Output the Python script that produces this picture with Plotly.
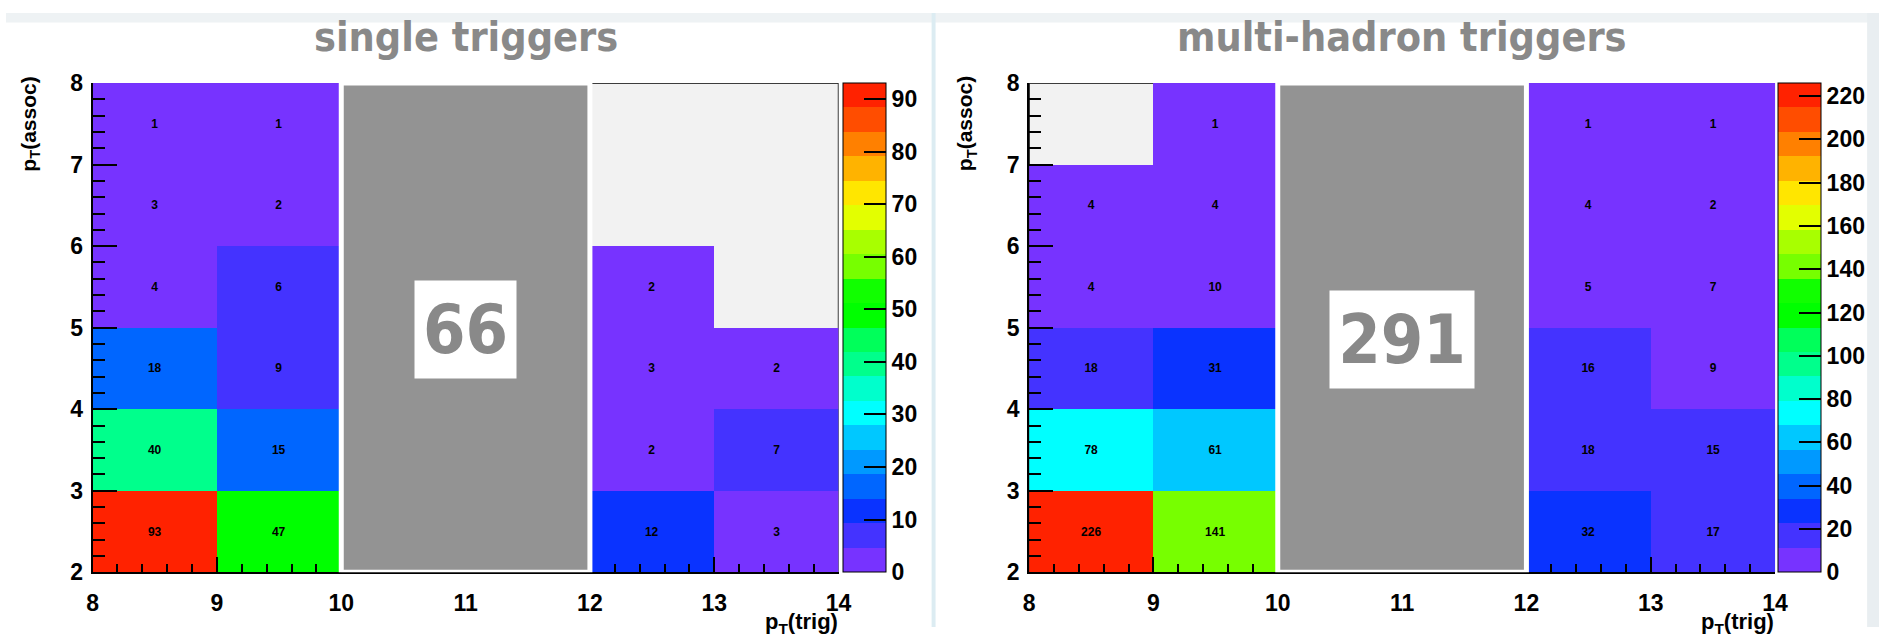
import plotly.graph_objects as go

# ---- data -----------------------------------------------------------------
# bin centres: pT(trig) and pT(assoc)
pt_trig = [8.5, 9.5, 10.5, 11.5, 12.5, 13.5]
pt_assoc = [2.5, 3.5, 4.5, 5.5, 6.5, 7.5]

# counts per bin, one row per pT(assoc) bin (bottom to top); None = empty bin
single_counts = [
    [93, 47, None, None, 12, 3],
    [40, 15, None, None, 2, 7],
    [18, 9, None, None, 3, 2],
    [4, 6, None, None, 2, None],
    [3, 2, None, None, None, None],
    [1, 1, None, None, None, None],
]
multi_counts = [
    [226, 141, None, None, 32, 17],
    [78, 61, None, None, 18, 15],
    [18, 31, None, None, 16, 9],
    [4, 10, None, None, 5, 7],
    [4, 4, None, None, 4, 2],
    [None, 1, None, None, 1, 1],
]
single_zmax = 93
multi_zmax = 226
single_total = "66"
multi_total = "291"
single_title = "single triggers"
multi_title = "multi-hadron triggers"
x_ticks = [8, 9, 10, 11, 12, 13, 14]
y_ticks = [2, 3, 4, 5, 6, 7, 8]
single_cbar_ticks = list(range(0, 100, 10))
multi_cbar_ticks = list(range(0, 240, 20))

# 20-level palette, low to high
palette = [
    "#7733ff", "#4433ff", "#0a33ff", "#0066ff", "#0099ff",
    "#00c8ff", "#00ffff", "#00ffcc", "#00ff8c", "#00ff5a",
    "#00ff00", "#11ff00", "#77ff00", "#a8ff00", "#e3ff00",
    "#ffe600", "#ffb300", "#ff8000", "#ff4d00", "#ff2200",
]


def stepped_scale(colors):
    n = len(colors)
    scale = []
    for i, c in enumerate(colors):
        scale.append([i / n, c])
        scale.append([(i + 1) / n, c])
    return scale


colorscale = stepped_scale(palette)

W, H = 1892, 640
PLOT_TOP, PLOT_BOT = 73, 583
panels = [
    dict(left=87.5, right=841, cbar=845, counts=single_counts, zmax=single_zmax,
         cticks=single_cbar_ticks, title=single_title, total=single_total,
         box_w=101, box_y=4.98, offset=0),
    dict(left=1033.5, right=1787, cbar=1790, counts=multi_counts, zmax=multi_zmax,
         cticks=multi_cbar_ticks, title=multi_title, total=multi_total,
         box_w=144, box_y=4.85, offset=946),
]

label_font = dict(family="Liberation Sans", size=23, color="black", weight="bold")
hand_font = "DejaVu Sans Condensed, Liberation Sans Narrow, Roboto, sans-serif"
grey_text = "#898989"

fig = go.Figure()
shapes = []
annotations = []

# page decoration: top strip, centre divider, right edge strip
shapes += [
    dict(type="rect", xref="paper", yref="paper", x0=0, x1=1, y0=1 - 10 / H, y1=1,
         fillcolor="#eef2f4", line=dict(width=0), layer="below"),
    dict(type="rect", xref="paper", yref="paper", x0=935 / W, x1=939 / W, y0=0, y1=1,
         fillcolor="#dcecf2", line=dict(width=0), layer="below"),
    dict(type="rect", xref="paper", yref="paper", x0=1880 / W, x1=1, y0=0, y1=1,
         fillcolor="#e9eef1", line=dict(width=0), layer="below"),
]

for i, p in enumerate(panels):
    sfx = "" if i == 0 else str(i + 1)
    xa, ya = "x" + sfx, "y" + sfx
    fig.add_trace(go.Heatmap(
        x=pt_trig, y=pt_assoc, z=p["counts"],
        xaxis=xa, yaxis=ya,
        zmin=0, zmax=p["zmax"], colorscale=colorscale,
        texttemplate="%{z}",
        textfont=dict(family="Liberation Sans", size=12, color="black", weight="bold"),
        hoverinfo="skip",
        colorbar=dict(
            x=p["cbar"] / W, xanchor="left", xpad=0, ypad=0,
            y=1 - (PLOT_TOP + PLOT_BOT) / 2 / H, yanchor="middle",
            len=(PLOT_BOT - PLOT_TOP) / H, lenmode="fraction",
            thickness=43, thicknessmode="pixels",
            tickvals=p["cticks"], ticks="inside", ticklen=22,
            tickcolor="black", tickwidth=2,
            outlinewidth=1, outlinecolor="black",
            tickfont=label_font,
        ),
    ))

    axis_common = dict(showgrid=False, zeroline=False, showline=True,
                       linecolor="black", linewidth=2, ticks="inside",
                       tickcolor="black", tickwidth=2, tickfont=label_font,
                       layer="above traces")
    fig.layout["xaxis" + sfx] = dict(
        axis_common, domain=[p["left"] / W, p["right"] / W], anchor=ya,
        range=[8, 14], tickvals=x_ticks, ticklen=15, ticklabelstandoff=9,
        minor=dict(ticks="inside", ticklen=8, dtick=0.2, tickcolor="black", tickwidth=2),
    )
    fig.layout["yaxis" + sfx] = dict(
        axis_common, domain=[1 - PLOT_BOT / H, 1 - PLOT_TOP / H], anchor=xa,
        range=[2, 8], tickvals=y_ticks, ticklen=24, ticklabelstandoff=3,
        minor=dict(ticks="inside", ticklen=12, dtick=0.2, tickcolor="black", tickwidth=2),
    )

    # frame (drawn beneath the bins)
    shapes.append(dict(type="rect", xref=xa, yref=ya, x0=8, x1=14, y0=2, y1=8,
                       line=dict(color="black", width=1.5), layer="below"))
    # grey cover over the 10-12 GeV columns
    shapes.append(dict(type="rect", xref=xa, yref=ya, x0=10, x1=12, y0=2, y1=8,
                       fillcolor="#939393", line=dict(color="white", width=5),
                       layer="above"))

    off = p["offset"]
    # panel title
    annotations.append(dict(
        text=p["title"], xref="paper", yref="paper",
        x=((p["left"] + p["right"]) / 2) / W, y=1 - 25 / H,
        xanchor="center", yanchor="middle", showarrow=False,
        font=dict(family=hand_font, size=41, color=grey_text, weight="bold"),
    ))
    # total count in a white box
    annotations.append(dict(
        text=p["total"], xref=xa, yref=ya, x=11, y=p["box_y"],
        xanchor="center", yanchor="middle", showarrow=False,
        width=p["box_w"], height=97, bgcolor="white", borderpad=0,
        font=dict(family=hand_font, size=68, color=grey_text, weight="bold"),
    ))
    # axis titles
    annotations.append(dict(
        text="p<sub>T</sub>(assoc)", xref="paper", yref="paper",
        x=(off + 24) / W, y=1 - 64 / H, xanchor="center", yanchor="top",
        textangle=-90, showarrow=False,
        font=dict(family="Liberation Sans", size=21, color="black", weight="bold"),
    ))
    annotations.append(dict(
        text="p<sub>T</sub>(trig)", xref="paper", yref="paper",
        x=(p["right"] + 1) / W, y=1 - 619 / H, xanchor="right", yanchor="top",
        showarrow=False,
        font=dict(family="Liberation Sans", size=22, color="black", weight="bold"),
    ))

fig.update_layout(
    width=W, height=H, margin=dict(l=0, r=0, t=0, b=0),
    paper_bgcolor="white", plot_bgcolor="#f2f2f2",
    shapes=shapes, annotations=annotations, showlegend=False,
)

fig.write_html("out.html")
